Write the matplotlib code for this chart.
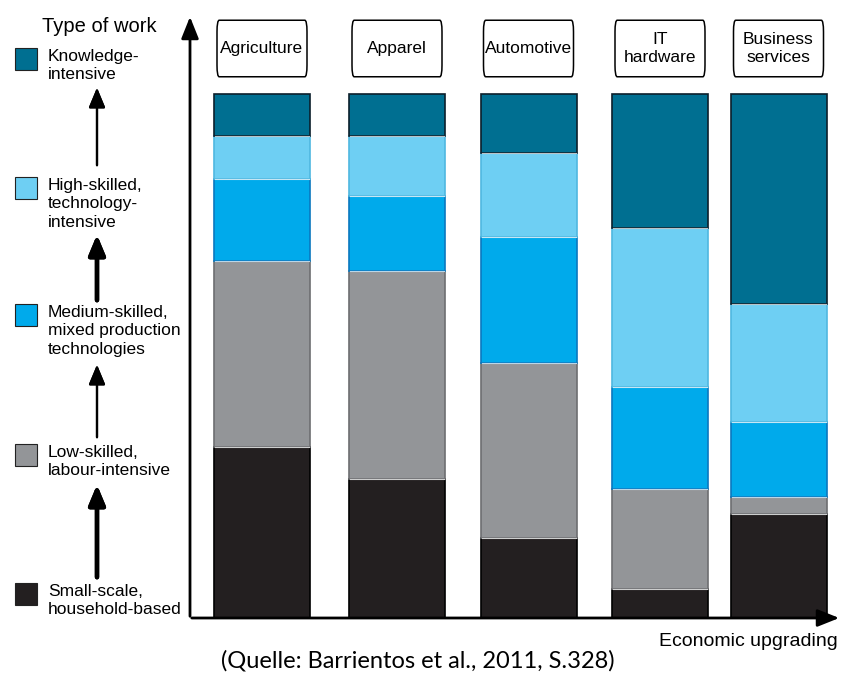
import numpy as np
import matplotlib.pyplot as plt
from matplotlib.patches import FancyBboxPatch, Rectangle

# Anteile der Tätigkeitsarten je Sektor (in %, von unten nach oben)
sectors = ["Agriculture", "Apparel", "Automotive", "IT\nhardware", "Business\nservices"]
small_scale = [32.7, 26.6, 15.2, 5.6, 19.9]
low_skilled = [35.4, 39.6, 33.4, 19.1, 3.2]
medium_skilled = [15.7, 14.4, 24.1, 19.3, 14.3]
high_skilled = [8.2, 11.3, 16.1, 30.4, 22.6]
knowledge = [8.0, 8.1, 11.2, 25.6, 40.0]

types = ["Small-scale,\nhousehold-based", "Low-skilled,\nlabour-intensive",
         "Medium-skilled,\nmixed production\ntechnologies",
         "High-skilled,\ntechnology-\nintensive", "Knowledge-\nintensive"]
series = [small_scale, low_skilled, medium_skilled, high_skilled, knowledge]
colors = ["#231f20", "#939598", "#00aaeb", "#6ecff3", "#006f91"]
edges = ["#000000", "#6d6e71", "#0a78bf", "#4fb8e0", "#0c1f2b"]

# Layout (Pixel)
W, H = 843, 679
bar_x = [72, 207, 338.5, 470, 588.5]
bar_w = 96
px_per_unit = 5.24

fig = plt.figure(figsize=(W / 100, H / 100), dpi=100)
ax = fig.add_axes([190 / W, (H - 618) / H, (W - 190) / W, (618 - 10) / H])
ax.set_xlim(0, W - 190)
ax.set_ylim(0, (618 - 10) / px_per_unit)
ax.axis("off")

bottom = np.zeros(len(sectors))
for vals, c, e in zip(series, colors, edges):
    ax.bar(bar_x, vals, width=bar_w, bottom=bottom, color=c, edgecolor=e, linewidth=1.2)
    bottom += np.array(vals)
    # dünne helle Trennlinie zwischen den Segmenten
    for x, b in zip(bar_x, bottom):
        if b < 99.5:
            ax.plot([x - bar_w / 2 + 1, x + bar_w / 2 - 1], [b, b], color="white", lw=0.8, alpha=0.7)

# Sektorbeschriftungen in abgerundeten Kästen
box_lo = (618 - 82) / px_per_unit
box_hi = (618 - 15) / px_per_unit
for x, name in zip(bar_x, sectors):
    ax.add_patch(FancyBboxPatch((x - bar_w / 2 + 3, box_lo + 1), bar_w - 6, box_hi - box_lo - 2,
                                boxstyle="round,pad=0,rounding_size=2.2", mutation_aspect=1,
                                facecolor="white", edgecolor="black", lw=1.1, clip_on=False))
    ax.text(x, (box_lo + box_hi) / 2, name, ha="center", va="center", fontsize=12.5,
            family="Liberation Sans", linespacing=1.3)

# Achsenpfeile
ax.annotate("", xy=(0, (618 - 14) / px_per_unit), xytext=(0, -0.2),
            arrowprops=dict(arrowstyle="-|>,head_length=0.55,head_width=0.22", lw=2, color="black",
                            mutation_scale=24), annotation_clip=False)
ax.annotate("", xy=(W - 190 - 1, 0), xytext=(-1, 0),
            arrowprops=dict(arrowstyle="-|>,head_length=0.55,head_width=0.22", lw=2, color="black",
                            mutation_scale=24), annotation_clip=False)

fig.text(838 / W, 1 - 642 / H, "Economic upgrading", ha="right", va="center", fontsize=14,
         family="Liberation Sans")
fig.text(418 / W, 1 - 661 / H, "(Quelle: Barrientos et al., 2011, S.328)", ha="center", va="center",
         fontsize=17, family="Lato")

# Legende links
fig.text(42 / W, 1 - 17 / H, "Type of work", ha="left", va="top", fontsize=14.5, family="Liberation Sans")
sq_top = [583, 444, 304, 177, 48]
for t, c, e, lab in zip(sq_top, colors, edges, types):
    fig.patches.append(Rectangle((15 / W, 1 - (t + 22) / H), 22 / W, 22 / H, transform=fig.transFigure,
                                 facecolor=c, edgecolor="#222222", lw=0.8))
    fig.text(48 / W, 1 - (t + 1) / H, lab, ha="left", va="top", fontsize=12.5,
             family="Liberation Sans", linespacing=1.28)

arrows = [(580, 482, 3.2), (440, 362, 1.6), (303, 232, 3.2), (168, 85, 1.6)]
for y0, y1, lw in arrows:
    fig.add_artist(plt.annotate("", xy=(97, H - y1), xytext=(97, H - y0), xycoords="figure pixels",
                                textcoords="figure pixels",
                                arrowprops=dict(arrowstyle="-|>,head_length=0.6,head_width=0.25", lw=lw,
                                                color="black", mutation_scale=20)))

fig.savefig("out.png", dpi=100)
